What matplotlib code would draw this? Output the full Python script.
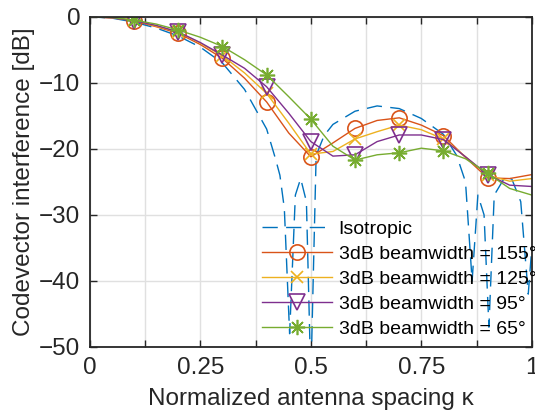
import matplotlib
matplotlib.use('agg')
import matplotlib.pyplot as plt
import numpy as np

# spacing grid (0.05 steps), markers shown every 0.1
kappa = np.round(np.arange(0, 1.0001, 0.05), 2)

bw155 = [0, -0.15, -0.6, -1.5, -2.5, -4.2, -6.3, -9.3, -12.9, -17.6, -21.2,
         -19.1, -16.9, -15.7, -15.3, -16.4, -18.0, -21.3, -24.4, -24.5, -23.9]
bw125 = [0, -0.15, -0.5, -1.4, -2.3, -4.0, -5.9, -8.5, -11.6, -16.1, -20.8,
         -20.4, -18.5, -17.4, -16.4, -17.1, -18.5, -21.2, -24.0, -24.9, -24.5]
bw95 = [0, -0.15, -0.6, -1.3, -2.3, -3.9, -5.8, -7.8, -10.6, -14.6, -18.9,
        -21.1, -20.9, -18.9, -17.9, -17.9, -18.6, -21.2, -23.9, -25.5, -25.7]
bw65 = [0, -0.1, -0.5, -1.1, -2.0, -3.1, -4.5, -6.5, -8.8, -12.1, -15.5,
        -19.6, -21.7, -20.9, -20.6, -19.9, -20.3, -21.5, -23.7, -26.0, -27.0]

iso_k = [0, 0.05, 0.1, 0.15, 0.2, 0.25, 0.3, 0.35, 0.4, 0.42, 0.43, 0.44, 0.452,
         0.465, 0.477, 0.49, 0.5, 0.512, 0.53, 0.55, 0.6, 0.65, 0.7, 0.75, 0.8,
         0.83, 0.85, 0.865, 0.878, 0.892, 0.903, 0.915, 0.94, 0.955, 0.975,
         0.992, 1.0]
iso_db = [0, -0.2, -0.8, -1.7, -2.9, -4.6, -7.0, -11.0, -17.0, -21.5, -24.0,
          -29.0, -48.0, -27.0, -24.5, -28.0, -55.0, -21.0, -18.0, -16.3, -14.3,
          -13.5, -13.9, -15.4, -17.8, -21.0, -25.0, -40.0, -27.0, -30.0, -47.0,
          -27.0, -24.2, -24.6, -28.0, -42.0, -35.0]

labels = ['Isotropic', '3dB beamwidth = 155°', '3dB beamwidth = 125°',
          '3dB beamwidth = 95°', '3dB beamwidth = 65°']

plt.rcParams['font.family'] = ['Liberation Sans', 'DejaVu Sans']

fig = plt.figure(figsize=(5.35, 4.2), dpi=100)
ax = fig.add_axes([0.168, 0.174, 0.826, 0.786])

ax.plot(iso_k, iso_db, '--', color='#0072BD', lw=1.0, dashes=(11, 6), label=labels[0])

marks = slice(2, 19, 2)
ax.plot(kappa, bw155, color='#D95319', lw=1.0, marker='o', ms=11, mfc='none',
        mew=1.2, markevery=marks, label=labels[1])
ax.plot(kappa, bw125, color='#EDB120', lw=1.0, marker='x', ms=9, mew=1.2,
        markevery=marks, label=labels[2])
ax.plot(kappa, bw95, color='#7E2F8E', lw=1.0, marker='v', ms=11, mfc='none',
        mew=1.2, markevery=marks, label=labels[3])
ax.plot(kappa, bw65, color='#77AC30', lw=1.0, marker=(8, 2, 0), ms=11, mew=1.2,
        markevery=marks, label=labels[4])

ax.set_xlim(0, 1)
ax.set_ylim(-50, 0)
xt = np.arange(0, 1.0001, 0.125)
ax.set_xticks(xt)
ax.set_xticklabels(['0', '', '0.25', '', '0.5', '', '0.75', '', '1'])
ax.set_yticks(range(-50, 1, 10))
ax.tick_params(direction='in', top=True, right=True, labelsize=17.5, length=5,
               width=1.0, colors='#262626', pad=7)
ax.grid(True, color='#e0e0e0', lw=1.0)
ax.set_axisbelow(True)
for s in ax.spines.values():
    s.set_linewidth(1.3)
    s.set_color('#262626')

ax.set_xlabel('Normalized antenna spacing κ', fontsize=17.5, color='#262626', labelpad=7)
ax.set_ylabel('Codevector interference [dB]', fontsize=17.5, color='#262626', labelpad=3)

leg = ax.legend(loc='lower right', bbox_to_anchor=(1.03, 0.0), frameon=False,
                fontsize=14, handlelength=3.6, labelspacing=0.38,
                borderaxespad=0.05, handletextpad=0.36)

fig.savefig('out.png', dpi=100)
